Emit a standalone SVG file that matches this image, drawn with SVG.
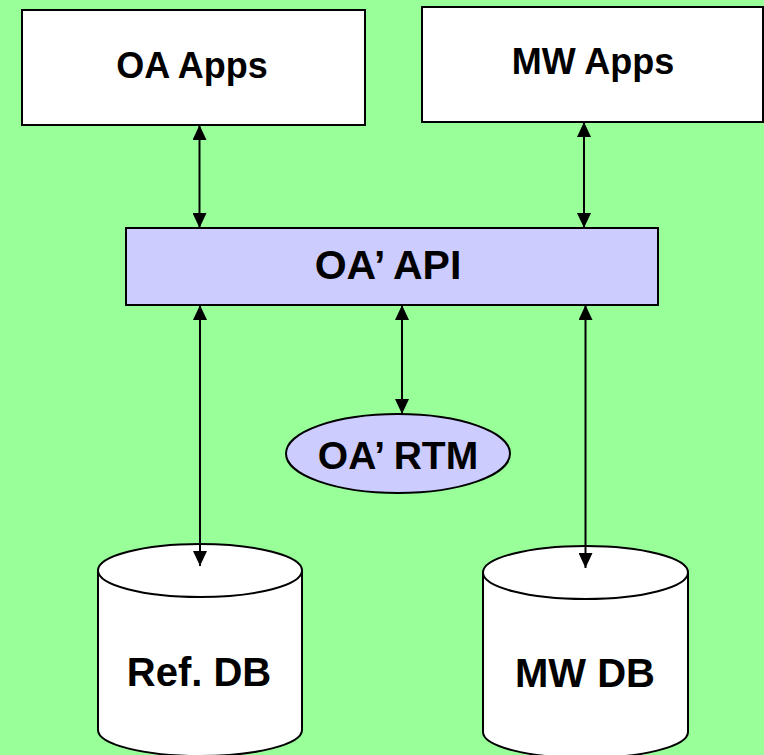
<svg xmlns="http://www.w3.org/2000/svg" width="764" height="755" viewBox="0 0 764 755">
  <defs>
    <marker id="tip" viewBox="0 0 15 14" refX="15" refY="7" markerWidth="15" markerHeight="14" markerUnits="userSpaceOnUse" orient="auto-start-reverse">
      <path d="M0,0 L15,7 L0,14 Z" fill="#000"/>
    </marker>
  </defs>
  <style>
    .box { fill: #ffffff; stroke: #000; stroke-width: 2; }
    .api { fill: #ccccff; stroke: #000; stroke-width: 2; }
    .db { fill: #ffffff; stroke: #000; stroke-width: 2; }
    .link { stroke: #000; stroke-width: 2; fill: none; marker-start: url(#tip); marker-end: url(#tip); }
    .label { font-family: "Liberation Sans", Arial, sans-serif; font-weight: bold; fill: #000; text-anchor: middle; }
  </style>

  <rect x="0" y="0" width="764" height="755" fill="#99ff99"/>

  <g id="oa-apps">
    <rect class="box" x="22" y="10" width="343" height="115"/>
    <text class="label" x="192" y="78" font-size="36">OA Apps</text>
  </g>

  <g id="mw-apps">
    <rect class="box" x="422" y="7" width="341" height="115"/>
    <text class="label" x="593" y="74" font-size="36">MW Apps</text>
  </g>

  <g id="oa-api">
    <rect class="api" x="126" y="228" width="532" height="77"/>
    <text class="label" x="388" y="279" font-size="41">OA’ API</text>
  </g>

  <g id="oa-rtm">
    <ellipse class="api" cx="398" cy="453.5" rx="112" ry="39.5"/>
    <text class="label" x="398" y="469" font-size="39">OA’ RTM</text>
  </g>

  <g id="ref-db">
    <path class="db" d="M98,570 L98,730 A102,26 0 0 0 302,730 L302,570"/>
    <ellipse class="db" cx="200" cy="570.5" rx="102" ry="26.5"/>
    <text class="label" x="199" y="686" font-size="40">Ref. DB</text>
  </g>

  <g id="mw-db">
    <path class="db" d="M483,572 L483,732 A102.5,26 0 0 0 688,732 L688,572"/>
    <ellipse class="db" cx="585.5" cy="572.5" rx="102.5" ry="26.5"/>
    <text class="label" x="585" y="687" font-size="40">MW DB</text>
  </g>

  <g id="connectors">
    <line class="link" x1="199.5" y1="125" x2="199.5" y2="228"/>
    <line class="link" x1="584" y1="122" x2="584" y2="228"/>
    <line class="link" x1="200" y1="305" x2="200" y2="566"/>
    <line class="link" x1="402" y1="305" x2="402" y2="414"/>
    <line class="link" x1="585.5" y1="305" x2="585.5" y2="568"/>
  </g>
</svg>
